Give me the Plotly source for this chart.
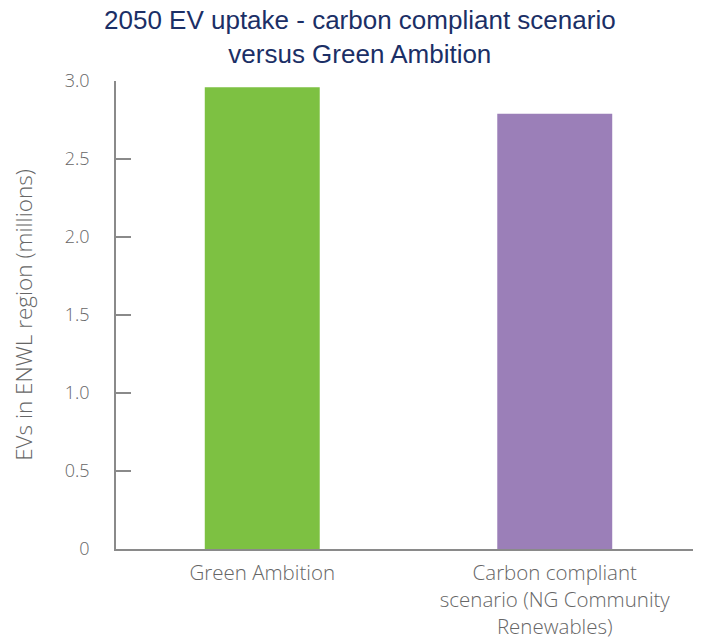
import plotly.graph_objects as go

# data
scenarios = ["Green Ambition", "Carbon compliant<br>scenario (NG Community<br>Renewables)"]
evs_millions = [2.96, 2.79]
bar_colors = ["#7dc142", "#9b7fb8"]
tick_vals = [0, 0.5, 1.0, 1.5, 2.0, 2.5, 3.0]
tick_text = ["0", "0.5", "1.0", "1.5", "2.0", "2.5", "3.0"]

font_family = "Open Sans, Liberation Sans, Arial"
grey = "#666666"
axis_grey = "#8a8a8a"

fig = go.Figure(go.Bar(
    x=scenarios,
    y=evs_millions,
    marker=dict(color=bar_colors, line=dict(width=0)),
    width=0.393,
))

# page body has an 8px margin, so the figure is shrunk by 8px to fit the window
fig.update_layout(
    width=693, height=636,
    paper_bgcolor="white", plot_bgcolor="white",
    margin=dict(l=108, r=0, t=73, b=94.5, autoexpand=False),
    showlegend=False,
    font=dict(family=font_family, color=grey, size=20, weight=300),
)

# two-line title as an annotation so it stays inside the page
fig.add_annotation(
    text="2050 EV uptake - carbon compliant scenario<br>versus Green Ambition",
    xref="paper", yref="paper", x=0.417, y=1, xanchor="center", yanchor="bottom",
    yshift=10, showarrow=False,
    font=dict(family="Liberation Sans, Arial", size=26, color="#1b2f66", weight=400),
)

fig.update_xaxes(
    showline=True, linecolor=axis_grey, linewidth=1.5,
    showgrid=False, ticks="", tickfont=dict(size=20.5, color=grey),
    ticklabelstandoff=5, automargin=False,
)
fig.update_yaxes(
    range=[0, 3.0],
    tickvals=tick_vals, ticktext=tick_text,
    showline=True, linecolor=axis_grey, linewidth=1.5,
    ticks="inside", ticklen=15, tickcolor=axis_grey, tickwidth=1.5,
    showgrid=False, zeroline=False,
    tickfont=dict(size=18, color=grey),
    ticklabelstandoff=21, automargin=False,
    title=dict(text="EVs in ENWL region (millions)", standoff=45,
               font=dict(size=22.5, color=grey)),
)

fig.write_html("out.html")
